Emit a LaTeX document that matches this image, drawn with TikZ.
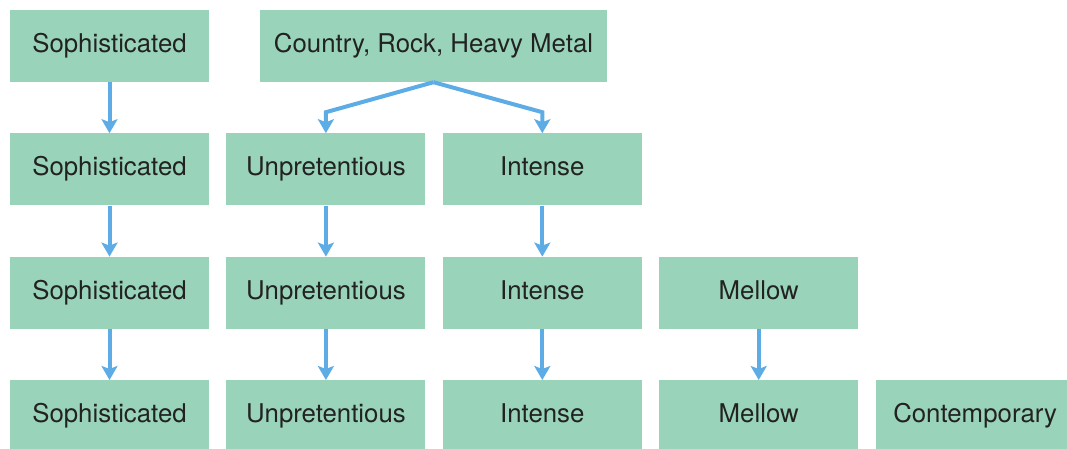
\documentclass[tikz,border=0pt]{standalone}
\usepackage{fontspec}
\setmainfont{TeX Gyre Heros}
\usepackage{tikz}
\usepackage{xcolor}
\usetikzlibrary{positioning, arrows.meta}

\definecolor{boxgreen}{HTML}{99D4BA}
\definecolor{arrblue}{HTML}{5DACE6}
\definecolor{txtgray}{HTML}{222222}

\begin{document}
\begin{tikzpicture}[
    node distance=51pt and 17pt,
    box/.style={fill=boxgreen, align=center, minimum width=199pt, minimum height=72pt,
      inner sep=0pt, text height=18pt, text depth=5pt, text=txtgray,
      font=\fontsize{25.8}{30}\selectfont},
    arr/.style={-{Stealth[length=14pt, width=16pt, inset=3pt]}, line width=4pt, arrblue}
  ]
    \useasboundingbox (0,0) rectangle (1067pt,-448pt);

    % first column
    \node[box] (soph1) at (109.5pt,-46pt) {Sophisticated};
    \node[box, below=of soph1] (soph2) {Sophisticated};
    \node[box, below=of soph2] (soph3) {Sophisticated};
    \node[box, below=of soph3] (soph4) {Sophisticated};

    % the other columns
    \node[box, right=of soph2] (unpr2) {Unpretentious};
    \node[box, right=of unpr2] (inte2) {Intense};
    \node[box, right=of soph3] (unpr3) {Unpretentious};
    \node[box, right=of unpr3] (inte3) {Intense};
    \node[box, right=of inte3] (mell3) {Mellow};
    \node[box, right=of soph4] (unpr4) {Unpretentious};
    \node[box, right=of unpr4] (inte4) {Intense};
    \node[box, right=of inte4] (mell4) {Mellow};
    \node[box, right=of mell4] (cont4) {Contemporary};

    \node[box, minimum width=347pt] (genre) at (433.5pt,-46pt) {Country, Rock, Heavy Metal};

    \draw[arr] (soph1) -- (soph2);
    \draw[arr] (soph2) -- (soph3);
    \draw[arr] (soph3) -- (soph4);
    \draw[arr] (genre.south) -- ([yshift=21pt]unpr2.north) -- (unpr2.north);
    \draw[arr] (genre.south) -- ([yshift=21pt]inte2.north) -- (inte2.north);
    \draw[arr] (unpr2) -- (unpr3);
    \draw[arr] (unpr3) -- (unpr4);
    \draw[arr] (inte2) -- (inte3);
    \draw[arr] (inte3) -- (inte4);
    \draw[arr] (mell3) -- (mell4);
  \end{tikzpicture}
\end{document}
